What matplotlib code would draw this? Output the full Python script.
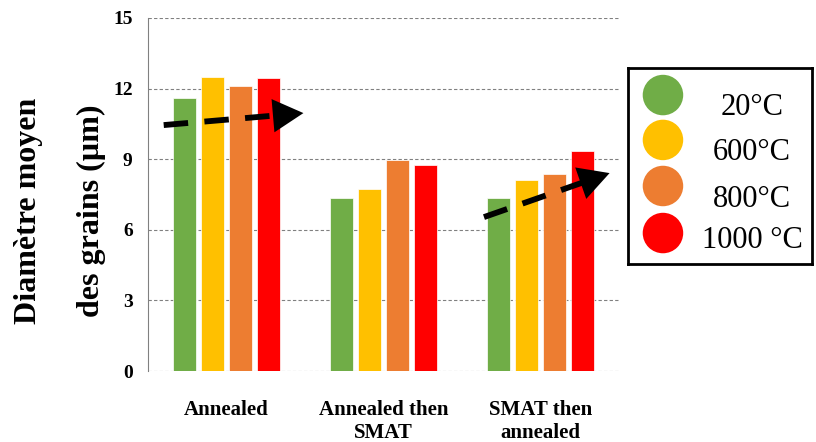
import matplotlib.pyplot as plt
import numpy as np

plt.rcParams['font.family'] = ['Liberation Serif', 'DejaVu Serif']

# données
groups = ['Annealed', 'Annealed then\nSMAT', 'SMAT then\nannealed']
temps = ['20°C', '600°C', '800°C', '1000 °C']
colors = ['#70AD47', '#FFC000', '#ED7D31', '#FF0000']
d_20 = [11.6, 7.35, 7.35]
d_600 = [12.5, 7.75, 8.1]
d_800 = [12.1, 8.95, 8.35]
d_1000 = [12.45, 8.75, 9.35]
yticks = [0, 3, 6, 9, 12, 15]

# flèches de tendance (début, fin) en coordonnées des données
arrow1 = [(-0.40, 10.45), (0.49, 10.96)]
arrow2 = [(1.64, 6.54), (2.44, 8.41)]

series = [d_20, d_600, d_800, d_1000]

fig = plt.figure(figsize=(8.16, 4.42), dpi=100)
ax = fig.add_axes([148/816, 1-371/442, 471/816, 353/442])

x = np.arange(len(groups))
offsets = [-0.27, -0.09, 0.09, 0.27]
for vals, off, c in zip(series, offsets, colors):
    ax.bar(x + off, vals, width=0.146, color=c, edgecolor='white', linewidth=0.5, zorder=3)

ax.set_xlim(-0.5, 2.5)
ax.set_ylim(0, 15)
ax.set_yticks(yticks)
ax.set_yticklabels([str(t) for t in yticks], fontsize=14, fontweight='bold')
ax.set_xticks(x)
ax.set_xticklabels(groups, fontsize=15, fontweight='bold', linespacing=1.2)
ax.tick_params(axis='x', length=0, pad=21)
ax.tick_params(axis='y', length=0, pad=11)
ax.yaxis.grid(True, color='#808080', linestyle=(0, (3, 2)), linewidth=0.8, zorder=0)
ax.set_axisbelow(True)
for s in ['top', 'right', 'bottom']:
    ax.spines[s].set_visible(False)
ax.spines['left'].set_color('#808080')
ax.spines['left'].set_zorder(1)

# flèches en pointillés
for (x0, y0), (x1, y1) in [arrow1, arrow2]:
    t = 0.78
    xm, ym = x0 + t * (x1 - x0), y0 + t * (y1 - y0)
    ax.plot([x0, xm], [y0, ym], color='black', linewidth=4.2,
            dashes=(4.2, 2.8), solid_capstyle='butt', dash_capstyle='butt', zorder=5)
    ax.annotate('', xy=(x1, y1), xytext=(xm - 0.05 * (x1 - x0), ym - 0.05 * (y1 - y0)),
                arrowprops=dict(arrowstyle='-|>,head_length=2.2,head_width=1.2',
                                color='black', linewidth=0, shrinkA=0, shrinkB=0),
                zorder=6)

# titre de l'axe y
fig.text(29/816, 1-211/442, 'Diamètre moyen', rotation=90, ha='center', va='center',
         fontsize=23, fontweight='bold')
fig.text(91/816, 1-211/442, 'des grains (µm)', rotation=90, ha='center', va='center',
         fontsize=23, fontweight='bold')

# légende
axl = fig.add_axes([628/816, 1-264/442, 184/816, 196/442])
axl.set_xlim(0, 1)
axl.set_ylim(0, 1)
axl.set_xticks([])
axl.set_yticks([])
for s in axl.spines.values():
    s.set_linewidth(2)
    s.set_color('black')
mark_y = [0.862, 0.633, 0.398, 0.158]
text_y = [0.760, 0.531, 0.291, 0.082]
for lab, c, my, ty in zip(temps, colors, mark_y, text_y):
    axl.scatter([0.19], [my], s=850, color=c, edgecolors='none')
    axl.text(0.674, ty, lab, ha='center', va='baseline', fontsize=22)

fig.savefig('out.png', dpi=100)
